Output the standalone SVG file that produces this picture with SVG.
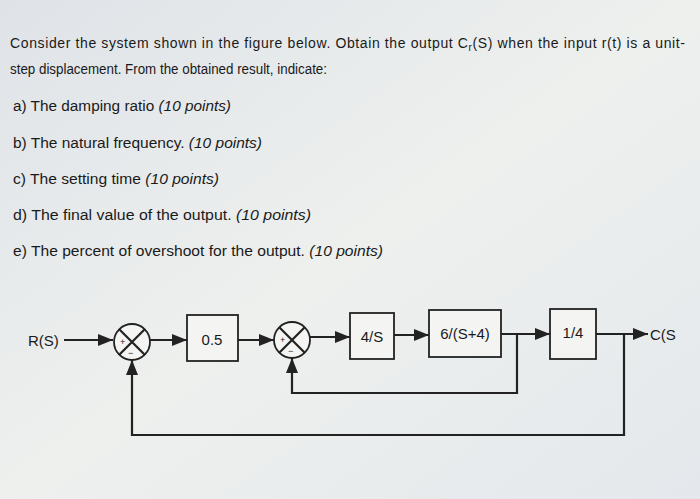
<svg xmlns="http://www.w3.org/2000/svg" width="700" height="499" viewBox="0 0 700 499">
<defs>
<linearGradient id="bg" x1="0" y1="0" x2="1" y2="1">
<stop offset="0" stop-color="#dfe3e8"/><stop offset="0.5" stop-color="#eef0ee"/><stop offset="1" stop-color="#e4e8ec"/>
</linearGradient>
<marker id="ar" viewBox="0 0 10 10" refX="10" refY="5" markerWidth="7" markerHeight="7" orient="auto-start-reverse"><path d="M0,1 L10,5 L0,9 z" fill="#222"/></marker>
</defs>
<style>
text{font-family:"Liberation Sans",Arial,sans-serif;fill:#1a1a1a}
.q{font-size:14px}
.i{font-style:italic}
.b{fill:#f4f5f3;stroke:#222;stroke-width:1.8}
.s{fill:#f4f5f3;stroke:#222;stroke-width:1.8}
.w{stroke:#222;stroke-width:2.2;fill:none}
.l{font-size:15px}
</style>
<rect width="700" height="499" fill="url(#bg)"/>
<g id="text">
<text class="q" x="10" y="48" textLength="675" lengthAdjust="spacing">Consider the system shown in the figure below. Obtain the output C<tspan font-size="10" dy="3">r</tspan><tspan dy="-3">(S) when the input r(t) is a unit-</tspan></text>
<text class="q" x="10" y="74" textLength="317" lengthAdjust="spacingAndGlyphs">step displacement. From the obtained result, indicate:</text>
<text class="q" x="13" y="111" textLength="218" lengthAdjust="spacingAndGlyphs">a) The damping ratio <tspan class="i">(10 points)</tspan></text>
<text class="q" x="13" y="148" textLength="249" lengthAdjust="spacingAndGlyphs">b) The natural frequency. <tspan class="i">(10 points)</tspan></text>
<text class="q" x="13" y="184" textLength="206" lengthAdjust="spacingAndGlyphs">c) The setting time <tspan class="i">(10 points)</tspan></text>
<text class="q" x="13" y="220" textLength="298" lengthAdjust="spacingAndGlyphs">d) The final value of the output. <tspan class="i">(10 points)</tspan></text>
<text class="q" x="13" y="256" textLength="370" lengthAdjust="spacingAndGlyphs">e) The percent of overshoot for the output. <tspan class="i">(10 points)</tspan></text>
</g>
<g id="connectors">
<path class="w" d="M64,340 H113" marker-end="url(#ar)"/>
<path class="w" d="M150,340 H187" marker-end="url(#ar)"/>
<path class="w" d="M238,340 H274" marker-end="url(#ar)"/>
<path class="w" d="M310,337 H350" marker-end="url(#ar)"/>
<path class="w" d="M394,335 H429" marker-end="url(#ar)"/>
<path class="w" d="M501,334 H550" marker-end="url(#ar)"/>
<path class="w" d="M596,334 H648" marker-end="url(#ar)"/>
<path class="w" d="M517,334 V393 H292 V358" marker-end="url(#ar)"/>
<path class="w" d="M624,334 V435 H132 V360" marker-end="url(#ar)"/>
</g>
<g id="R"><text class="l" x="28" y="346">R(S)</text></g>
<g id="sum1"><circle class="s" cx="132" cy="342" r="18"/><path class="w" stroke-width="1.6" d="M119,329 L145,355 M145,329 L119,355"/><text x="120" y="345" font-size="9">+</text><text x="128" y="356" font-size="9">−</text></g>
<g id="b1"><rect class="b" x="187" y="315" width="51" height="46"/><text class="l" x="212" y="345" text-anchor="middle">0.5</text></g>
<g id="sum2"><circle class="s" cx="292" cy="340" r="18"/><path class="w" stroke-width="1.6" d="M279,327 L305,353 M305,327 L279,353"/><text x="280" y="343" font-size="9">+</text><text x="288" y="354" font-size="9">−</text></g>
<g id="b2"><rect class="b" x="350" y="313" width="44" height="46"/><text class="l" x="372" y="342" text-anchor="middle">4/S</text></g>
<g id="b3"><rect class="b" x="429" y="310" width="72" height="47"/><text class="l" x="465" y="339" text-anchor="middle">6/(S+4)</text></g>
<g id="b4"><rect class="b" x="550" y="309" width="46" height="50"/><text class="l" x="573" y="338" text-anchor="middle">1/4</text></g>
<g id="C"><text class="l" x="650" y="340">C(S</text></g>
</svg>
